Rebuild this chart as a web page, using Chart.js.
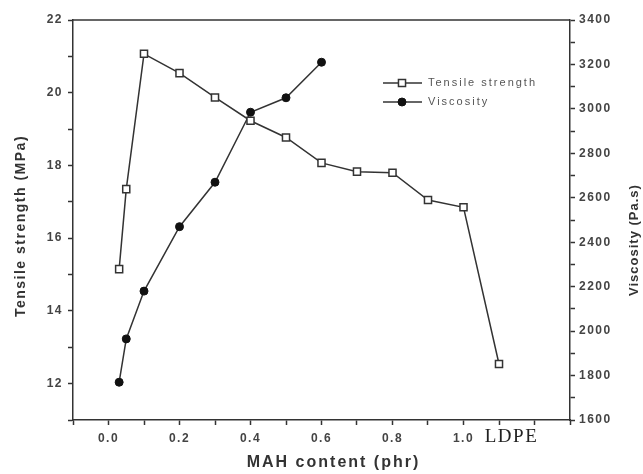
<!DOCTYPE html>
<html>
<head>
<meta charset="utf-8">
<title>MAH content vs tensile strength and viscosity</title>
<script src="https://cdn.jsdelivr.net/npm/chart.js@4.4.1/dist/chart.umd.min.js"></script>
<style>
  html, body { margin: 0; padding: 0; background: #fff; }
  #wrap { width: 643px; height: 474px; }
</style>
</head>
<body>
<div id="wrap"><canvas id="mahChart" width="643" height="474"></canvas></div>
<script>
// MAH content (phr); LDPE reference sample sits at 1.1
const mahTensile = [0.03, 0.05, 0.1, 0.2, 0.3, 0.4, 0.5, 0.6, 0.7, 0.8, 0.9, 1.0, 1.1];
const tensileStrength = [15.15, 17.35, 21.07, 20.54, 19.87, 19.23, 18.77, 18.07, 17.83, 17.8, 17.05, 16.85, 12.54];

const mahViscosity = [0.03, 0.05, 0.1, 0.2, 0.3, 0.4, 0.5, 0.6];
const viscosity = [1770, 1965, 2180, 2470, 2670, 2985, 3050, 3210];

const xTickValues = [0, 0.2, 0.4, 0.6, 0.8, 1.0, 1.1];
const xTickLabels = ['0.0', '0.2', '0.4', '0.6', '0.8', '1.0', '    LDPE'];

const ink = '#333';
const tickText = '#444';
const sans = "'Liberation Sans', Arial, sans-serif";

const near = (a, b) => Math.abs(a - b) < 1e-6;
const isLdpe = ctx => !!ctx.tick && near(ctx.tick.value, 1.1);

// frame top edge, legend box and axis titles
const decorations = {
  id: 'decorations',
  beforeDraw(chart) {
    chart.ctx.letterSpacing = '1.5px';
  },
  afterDraw(chart) {
    const { ctx, chartArea: a } = chart;
    ctx.save();
    ctx.strokeStyle = ink;
    ctx.lineWidth = 1.5;
    ctx.beginPath();
    ctx.moveTo(a.left, a.top);
    ctx.lineTo(a.right, a.top);
    ctx.stroke();

    // legend
    const lx = a.left + 310;
    let ly = a.top + 63;
    chart.data.datasets.forEach(ds => {
      ctx.strokeStyle = ink;
      ctx.lineWidth = 1.5;
      ctx.beginPath();
      ctx.moveTo(lx, ly);
      ctx.lineTo(lx + 39, ly);
      ctx.stroke();
      ctx.fillStyle = ds.pointBackgroundColor;
      ctx.strokeStyle = ds.pointBorderColor;
      ctx.lineWidth = ds.pointBorderWidth;
      ctx.beginPath();
      if (ds.pointStyle === 'rect') {
        const s = ds.pointRadius * Math.SQRT1_2;
        ctx.rect(lx + 19 - s, ly - s, 2 * s, 2 * s);
      } else {
        ctx.arc(lx + 19, ly, ds.pointRadius, 0, Math.PI * 2);
      }
      ctx.fill();
      ctx.stroke();
      ctx.fillStyle = '#555';
      ctx.font = '11px ' + sans;
      ctx.letterSpacing = '2px';
      ctx.textAlign = 'left';
      ctx.textBaseline = 'middle';
      ctx.fillText(ds.label, lx + 45, ly);
      ly += 19;
    });

    // axis titles
    ctx.fillStyle = ink;
    ctx.textAlign = 'center';
    ctx.textBaseline = 'middle';

    ctx.font = 'bold 16px ' + sans;
    ctx.letterSpacing = '2px';
    ctx.fillText('MAH content (phr)', (a.left + a.right) / 2 + 12, 463);

    ctx.save();
    ctx.translate(21, (a.top + a.bottom) / 2 + 6);
    ctx.rotate(-Math.PI / 2);
    ctx.font = 'bold 14px ' + sans;
    ctx.letterSpacing = '1.5px';
    ctx.fillText('Tensile strength (MPa)', 0, 0);
    ctx.restore();

    ctx.save();
    ctx.translate(634, (a.top + a.bottom) / 2 + 20);
    ctx.rotate(-Math.PI / 2);
    ctx.font = 'bold 13px ' + sans;
    ctx.letterSpacing = '1px';
    ctx.fillText('Viscosity (Pa.s)', 0, 0);
    ctx.restore();

    ctx.restore();
  }
};

const axisGrid = {
  display: true,
  drawOnChartArea: false,
  drawTicks: true,
  tickLength: 5,
  tickWidth: 1.5,
  tickColor: ink
};
const axisBorder = { display: true, color: ink, width: 1.5 };
const tickFont = { family: sans, size: 12, weight: 'bold' };

new Chart(document.getElementById('mahChart'), {
  type: 'line',
  data: {
    datasets: [{
      label: 'Tensile strength',
      data: mahTensile.map((x, i) => ({ x, y: tensileStrength[i] })),
      yAxisID: 'y',
      borderColor: ink,
      borderWidth: 1.5,
      pointStyle: 'rect',
      pointRadius: 5,
      pointBorderWidth: 1.5,
      pointBackgroundColor: '#fff',
      pointBorderColor: ink,
      tension: 0
    }, {
      label: 'Viscosity',
      data: mahViscosity.map((x, i) => ({ x, y: viscosity[i] })),
      yAxisID: 'y1',
      borderColor: ink,
      borderWidth: 1.5,
      pointStyle: 'circle',
      pointRadius: 4,
      pointBorderWidth: 1,
      pointBackgroundColor: '#111',
      pointBorderColor: '#111',
      tension: 0
    }]
  },
  options: {
    responsive: false,
    devicePixelRatio: 1,
    animation: false,
    layout: { padding: { top: 20, left: 0, right: 0, bottom: 0 } },
    plugins: {
      legend: { display: false },
      tooltip: { enabled: false }
    },
    scales: {
      x: {
        type: 'linear',
        position: 'bottom',
        min: -0.1,
        max: 1.3,
        grid: axisGrid,
        border: axisBorder,
        afterFit: s => { s.height = 54; },
        ticks: {
          stepSize: 0.1,
          autoSkip: false,
          maxRotation: 0,
          minRotation: 0,
          padding: 6,
          color: ctx => isLdpe(ctx) ? '#222' : tickText,
          font: ctx => isLdpe(ctx)
            ? { family: "'Liberation Serif', 'Times New Roman', serif", size: 19, lineHeight: 0.6 }
            : tickFont,
          callback: value => {
            const i = xTickValues.findIndex(v => near(v, value));
            return i >= 0 ? xTickLabels[i] : '';
          }
        }
      },
      y: {
        type: 'linear',
        position: 'left',
        min: 11,
        max: 22,
        grid: axisGrid,
        border: axisBorder,
        afterFit: s => { s.width = 73; },
        ticks: {
          stepSize: 1,
          padding: 5,
          color: tickText,
          font: tickFont,
          callback: v => (v % 2 === 0 ? String(v) : '')
        }
      },
      y1: {
        type: 'linear',
        position: 'right',
        min: 1600,
        max: 3400,
        grid: axisGrid,
        border: axisBorder,
        afterFit: s => { s.width = 73; },
        ticks: {
          stepSize: 100,
          padding: 4,
          color: tickText,
          font: tickFont,
          callback: v => (v % 200 === 0 ? String(v) : '')
        }
      }
    }
  },
  plugins: [decorations]
});
</script>
</body>
</html>
